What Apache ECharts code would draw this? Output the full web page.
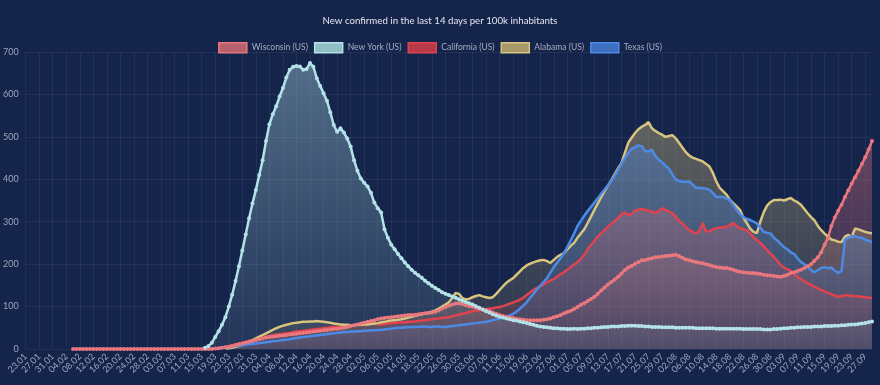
<!DOCTYPE html>
<html>
<head>
<meta charset="utf-8">
<script src="https://cdn.jsdelivr.net/npm/echarts@6/dist/echarts.min.js"></script>
<style>
html,body{margin:0;padding:0;background:#15244b;}
#chart{width:880px;height:385px;}
</style>
</head>
<body>
<div id="chart"></div>
<script>
const categories = [
'23.01','24.01','25.01','26.01','27.01','28.01','29.01','30.01','31.01',
'01.02','02.02','03.02','04.02','05.02','06.02','07.02','08.02','09.02','10.02','11.02','12.02','13.02','14.02','15.02','16.02','17.02','18.02','19.02','20.02','21.02','22.02','23.02','24.02','25.02','26.02','27.02','28.02','29.02',
'01.03','02.03','03.03','04.03','05.03','06.03','07.03','08.03','09.03','10.03','11.03','12.03','13.03','14.03','15.03','16.03','17.03','18.03','19.03','20.03','21.03','22.03','23.03','24.03','25.03','26.03','27.03','28.03','29.03','30.03','31.03',
'01.04','02.04','03.04','04.04','05.04','06.04','07.04','08.04','09.04','10.04','11.04','12.04','13.04','14.04','15.04','16.04','17.04','18.04','19.04','20.04','21.04','22.04','23.04','24.04','25.04','26.04','27.04','28.04','29.04','30.04',
'01.05','02.05','03.05','04.05','05.05','06.05','07.05','08.05','09.05','10.05','11.05','12.05','13.05','14.05','15.05','16.05','17.05','18.05','19.05','20.05','21.05','22.05','23.05','24.05','25.05','26.05','27.05','28.05','29.05','30.05','31.05',
'01.06','02.06','03.06','04.06','05.06','06.06','07.06','08.06','09.06','10.06','11.06','12.06','13.06','14.06','15.06','16.06','17.06','18.06','19.06','20.06','21.06','22.06','23.06','24.06','25.06','26.06','27.06','28.06','29.06','30.06',
'01.07','02.07','03.07','04.07','05.07','06.07','07.07','08.07','09.07','10.07','11.07','12.07','13.07','14.07','15.07','16.07','17.07','18.07','19.07','20.07','21.07','22.07','23.07','24.07','25.07','26.07','27.07','28.07','29.07','30.07','31.07',
'01.08','02.08','03.08','04.08','05.08','06.08','07.08','08.08','09.08','10.08','11.08','12.08','13.08','14.08','15.08','16.08','17.08','18.08','19.08','20.08','21.08','22.08','23.08','24.08','25.08','26.08','27.08','28.08','29.08','30.08','31.08',
'01.09','02.09','03.09','04.09','05.09','06.09','07.09','08.09','09.09','10.09','11.09','12.09','13.09','14.09','15.09','16.09','17.09','18.09','19.09','20.09','21.09','22.09','23.09','24.09','25.09','26.09','27.09','28.09','29.09'
];

const N = null;

const wisconsin = [
N,N,N,N,N,N,N,N,N,N,
N,N,N,N,0,0,0,0,0,0,
0,0,0,0,0,0,0,0,0,0,
0,0,0,0,0,0,0,0,0,0,
0,0,0,0,0,0,0,0,0,0,
0,0,0,0,0,0,1,2,3,4,
5,7,9,11,13,15,17,19,21,23,
25,27,28,29,30,31,32,33,34,35,
36,37,38,39,40,41,42,43,44,45,
46,47,48,49,50,52,54,56,58,60,
62,64,66,68,70,72,73,74,75,76,
77,78,79,80,80,81,82,83,84,85,
86,88,91,95,99,102,105,107,108,106,
103,101,100,97,95,93,92,89,86,83,
80,78,76,74,73,71,70,69,68,68,
68,68,68,69,70,72,75,77,80,84,
87,90,94,99,104,108,113,118,123,130,
138,145,152,158,164,170,178,186,192,196,
201,205,209,210,212,214,216,217,218,219,
220,221,222,219,215,211,209,207,205,203,
202,200,198,195,193,192,191,191,189,187,
184,182,181,180,179,179,178,177,175,174,
173,172,171,170,172,175,179,181,184,187,
191,195,200,208,216,228,246,262,290,310,
326,340,358,374,390,405,420,436,452,470,
490
];

const newYork = [
N,N,N,N,N,N,N,N,N,N,
N,N,N,N,N,N,N,N,N,N,
N,N,N,N,N,N,N,N,N,N,
N,N,N,N,N,N,N,N,N,N,
N,N,N,N,N,N,N,N,N,N,
N,N,N,3,7,15,28,42,57,75,
100,128,160,195,232,270,308,343,375,410,
445,490,530,553,572,595,615,640,658,665,
667,666,658,660,674,665,638,620,603,585,
558,528,512,520,510,496,477,445,420,402,
392,383,368,345,332,322,282,262,246,235,
224,214,204,195,187,180,174,168,161,155,
149,144,139,134,130,127,124,121,117,114,
111,108,105,101,97,93,89,86,82,79,
76,74,72,70,68,67,65,63,61,59,
57,55,53,52,51,50,49,49,48,48,
47,47,48,47,48,48,49,49,50,50,
51,52,52,53,53,53,54,54,55,55,
55,54,54,53,53,52,52,52,51,51,
51,51,50,50,50,50,50,50,49,49,
49,49,49,49,48,48,48,48,48,48,
48,48,47,47,47,47,47,47,46,46,
46,47,47,48,49,49,50,50,51,51,
52,52,52,53,53,53,54,54,54,55,
55,56,56,57,58,58,59,60,61,63,
65
];

const california = [
N,N,N,N,N,N,N,N,N,N,
N,N,N,N,N,N,N,N,N,N,
N,N,N,N,N,N,N,N,N,N,
N,N,N,N,N,N,N,N,N,N,
N,N,N,N,N,N,N,N,N,N,
N,N,N,N,N,N,1,2,3,5,
7,9,11,13,15,17,19,21,23,25,
27,29,31,33,34,35,36,37,38,40,
41,42,43,44,45,46,47,48,49,50,
51,52,52,52,53,54,55,56,57,58,
59,60,61,60,59,58,59,60,61,62,
62,63,63,64,64,65,66,67,68,69,
70,71,72,73,74,75,77,79,81,83,
85,87,89,90,92,93,94,95,96,98,
99,101,104,107,110,113,116,121,127,133,
139,144,148,152,157,161,165,170,176,181,
187,193,199,205,212,222,235,245,255,265,
273,280,288,295,302,309,318,322,316,318,
326,328,330,328,326,324,320,325,332,328,
324,320,312,302,296,288,280,276,272,278,
297,276,278,282,285,286,287,288,292,297,
290,285,282,280,272,264,257,250,242,233,
225,217,208,198,192,188,184,176,170,165,
160,155,151,147,143,139,136,133,129,126,
123,125,127,126,125,125,124,123,122,121,
120
];

const alabama = [
N,N,N,N,N,N,N,N,N,N,
N,N,N,N,N,N,N,N,N,N,
N,N,N,N,N,N,N,N,N,N,
N,N,N,N,N,N,N,N,N,N,
N,N,N,N,N,N,N,N,N,N,
N,N,N,N,N,N,N,N,N,1,
2,3,5,7,10,13,17,21,25,29,
33,37,41,45,49,52,55,57,59,61,
62,63,64,64,65,65,66,65,64,63,
62,60,59,58,57,57,56,56,57,57,
58,58,59,60,61,63,64,66,67,68,
69,70,72,74,76,78,80,82,84,86,
88,91,95,100,105,110,120,132,130,120,
117,118,122,125,127,124,122,120,122,130,
139,148,156,162,167,175,183,191,197,201,
204,207,209,210,207,203,210,217,222,226,
235,243,250,262,272,282,297,312,328,343,
358,372,385,398,412,426,438,462,486,498,
509,518,524,528,535,520,514,509,505,500,
502,504,497,486,475,464,456,451,448,445,
442,436,430,415,395,380,372,364,352,344,
336,328,310,297,284,276,273,300,322,338,
346,351,351,352,350,353,356,350,346,340,
330,320,311,303,290,280,272,265,258,256,
253,252,265,269,264,284,282,279,276,274,
273
];

const texas = [
N,N,N,N,N,N,N,N,N,N,
N,N,N,N,N,N,N,N,N,N,
N,N,N,N,N,N,N,N,N,N,
N,N,N,N,N,N,N,N,N,N,
N,N,N,N,N,N,N,N,N,N,
N,N,N,N,N,N,1,2,3,4,
5,6,7,8,9,10,11,12,13,14,
15,16,17,18,19,20,21,22,23,25,
26,27,28,29,30,31,32,33,34,35,
36,37,38,39,40,40,41,41,42,42,
43,43,44,44,45,45,46,47,48,49,
50,50,51,51,52,52,52,53,53,52,
52,53,53,52,52,53,54,55,56,57,
58,59,60,61,62,63,64,66,68,70,
72,74,76,79,83,88,95,102,110,120,
130,140,149,158,167,180,193,203,214,226,
240,256,272,290,302,314,325,335,345,355,
366,376,386,396,408,422,436,450,462,472,
476,480,478,466,466,470,455,446,440,432,
425,412,400,396,394,394,395,388,380,380,
379,378,375,368,358,359,358,355,351,340,
328,318,311,307,304,300,296,286,276,274,
273,262,256,248,240,235,228,224,214,205,
200,194,186,181,186,191,193,190,192,185,
179,184,258,262,266,266,263,262,258,255,
252
];

const seriesNames = ['Wisconsin (US)','New York (US)','California (US)','Alabama (US)','Texas (US)'];
const seriesData = [wisconsin, newYork, california, alabama, texas];
const lineColors = ['#e8787e','#b3e3e8','#e0434f','#d8c47e','#4d8ae6'];
const rgbs = ['232,120,126','179,227,232','224,67,79','216,196,126','77,138,230'];
const legendFill = ['#b8606b','#8fbec4','#b83a4a','#a89a68','#3f6fc0'];
const showDots = [true,true,false,false,false];
const yTicks = [0,100,200,300,400,500,600,700];

seriesData.forEach((d,i)=>{ if(d.length!==categories.length) throw new Error(seriesNames[i]+' length '+d.length); });

const chart = echarts.init(document.getElementById('chart'), null, {renderer:'canvas'});
const font = 'Lato, "Open Sans", sans-serif';

chart.setOption({
  backgroundColor: '#15244b',
  animation: false,
  title: {
    text: 'New confirmed in the last 14 days per 100k inhabitants',
    left: 'center',
    top: 11,
    textStyle: {color:'#e4e6ee', fontSize: 9.7, fontWeight:'normal', fontFamily: font}
  },
  legend: {
    top: 37,
    left: 'center',
    itemWidth: 28,
    itemHeight: 10,
    itemGap: 6,
    icon: 'rect',
    textStyle: {color:'#a6adc2', fontSize: 8.5, fontFamily: font},
    data: seriesNames.map((n,i)=>({
      name: n,
      itemStyle: {color: legendFill[i], borderColor: lineColors[i], borderWidth: 1.5}
    }))
  },
  grid: {left: 24, right: 8, top: 52, bottom: 36, containLabel: false},
  xAxis: {
    type: 'category',
    data: categories,
    boundaryGap: false,
    axisLine: {show: false},
    axisTick: {show: false},
    axisLabel: {interval: 3, rotate: 45, color:'#9ea6bb', fontSize: 9, fontFamily: font, margin: 6},
    splitLine: {show: true, interval: 3, lineStyle: {color:'rgba(255,255,255,0.06)', width:1}}
  },
  yAxis: {
    type: 'value',
    min: yTicks[0],
    max: yTicks[yTicks.length-1],
    interval: 100,
    axisLine: {show: false},
    axisTick: {show: false},
    axisLabel: {color:'#9ea6bb', fontSize: 9, fontFamily: font, margin: 7},
    splitLine: {show: true, lineStyle: {color:'rgba(255,255,255,0.06)', width:1}}
  },
  series: seriesNames.map((n,i)=>({
    name: n,
    type: 'line',
    data: seriesData[i],
    symbol: 'circle',
    symbolSize: 4,
    showSymbol: showDots[i],
    showAllSymbol: true,
    lineStyle: {color: lineColors[i], width: 2.5},
    itemStyle: {color: lineColors[i]},
    areaStyle: {
      color: new echarts.graphic.LinearGradient(0,0,0,1,[
        {offset:0, color:'rgba('+rgbs[i]+',0.55)'},
        {offset:1, color:'rgba('+rgbs[i]+',0.12)'}
      ])
    }
  }))
});
</script>
</body>
</html>
